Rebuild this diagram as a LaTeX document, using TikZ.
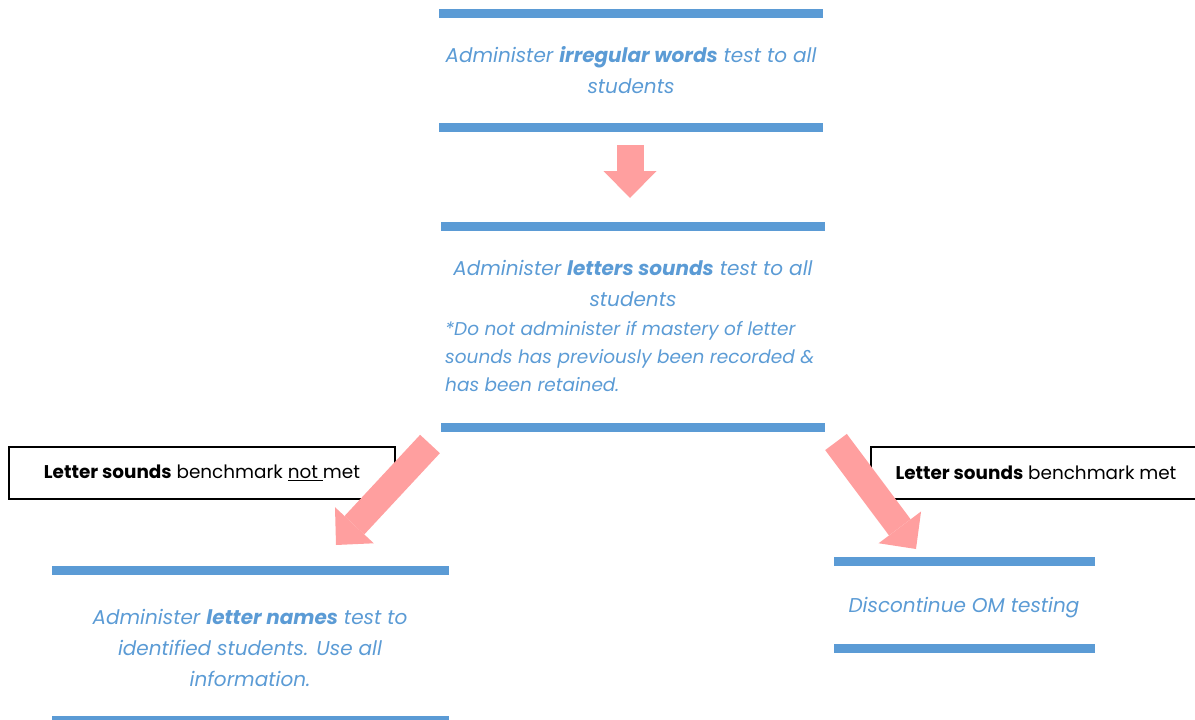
\documentclass[tikz,border=0pt]{standalone}
\usepackage{fontspec}
\setmainfont{Poppins}
\usetikzlibrary{arrows.meta}
\definecolor{barblue}{HTML}{5B9BD5}
\definecolor{arrowpink}{HTML}{FF9F9F}
\begin{document}
\begin{tikzpicture}[x=1pt,y=-1pt,
  bar/.style={fill=barblue, draw=none},
  steptext/.style={text=barblue, font=\fontsize{20}{31}\selectfont\itshape, align=center, inner sep=0pt},
  notetext/.style={text=barblue, font=\fontsize{18.5}{28}\selectfont\itshape, align=left, inner sep=0pt},
  condlabel/.style={draw=black, line width=1.5pt, font=\fontsize{18.4}{20}\selectfont, minimum height=52pt, inner sep=0pt, text=black},
  fat/.style={draw=arrowpink, line width=27pt, -{Triangle[width=53pt,length=27pt,line width=0pt]}}
]
\useasboundingbox (0,0) rectangle (1195,720);
% step 1
\fill[bar] (439,9) rectangle (823,18);
\fill[bar] (439,123) rectangle (823,132);
\node[steptext] (s1) at (631,70) {Administer \textbf{irregular words} test to all\\students};
% step 2
\fill[bar] (441,222) rectangle (825,231);
\fill[bar] (441,423) rectangle (825,432);
\node[steptext] (s2) at (633,283) {Administer \textbf{letters sounds} test to all\\students};
\node[notetext, anchor=west] (s2n) at (445,357) {*Do not administer if mastery of letter\\sounds has previously been recorded \&\\has been retained.};
% step 3 left
\fill[bar] (52,566) rectangle (449,575);
\fill[bar] (52,716) rectangle (449,725);
\node[steptext] (s3) at (250,648) {Administer \textbf{letter names} test to\\identified students. Use all\\information.};
% step 3 right
\fill[bar] (834,557) rectangle (1095,566);
\fill[bar] (834,644) rectangle (1095,653);
\node[steptext] (s4) at (964,608) {Discontinue OM testing};
% condition labels
\node[condlabel, minimum width=386pt] (c1) at (202,473) {\textbf{Letter sounds} benchmark \underline{not\ }met};
\node[condlabel, minimum width=330pt] (c2) at (1036,473) {\textbf{Letter sounds} benchmark met};
% arrows
\coordinate (a1s) at (630,145);
\coordinate (a1e) at (630,198);
\coordinate (a2s) at (430,444);
\coordinate (a2e) at (336,545);
\coordinate (a3s) at (836,442);
\coordinate (a3e) at (916,549);
\draw[fat] (a1s) -- (a1e);
\draw[fat] (a2s) -- (a2e);
\draw[fat] (a3s) -- (a3e);
\end{tikzpicture}
\end{document}
